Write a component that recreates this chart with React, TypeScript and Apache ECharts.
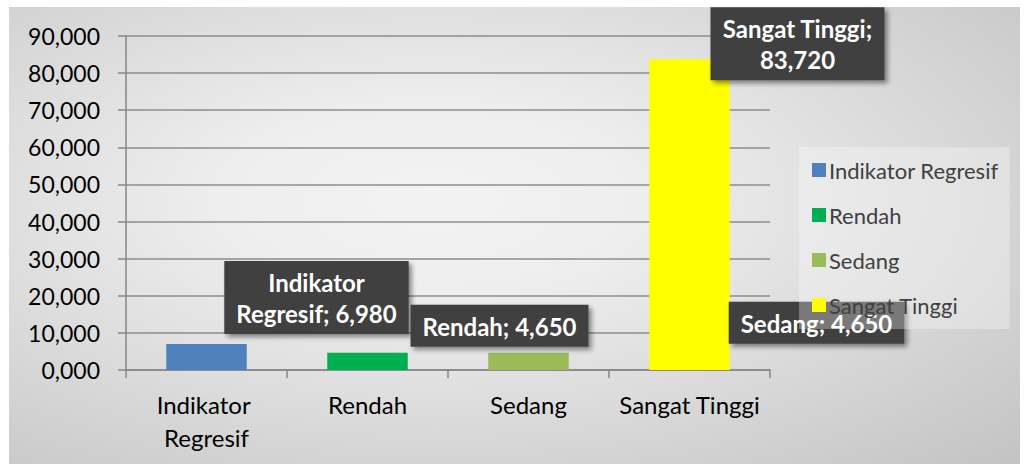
import React, { useEffect, useRef } from "react";
import * as echarts from "echarts";

const categories = ["Indikator Regresif", "Rendah", "Sedang", "Sangat Tinggi"];
const seriesNames = ["Indikator Regresif", "Rendah", "Sedang", "Sangat Tinggi"];
const values = [6.98, 4.65, 4.65, 83.72];
const barColors = ["#4f81bd", "#00b050", "#9bbb59", "#ffff00"];
const yMin = 0;
const yMax = 90;
const yInterval = 10;
// words kept on the first line of each data label (0 = no wrap)
const labelWrapWords = [1, 0, 0, 2];
// label placement relative to the top of each bar (layout only)
const labelOffsets = [
  [110, -10],
  [132, -6],
  [288, -9],
  [108, 21],
];

const fmt = (v: number) => v.toFixed(3).replace(".", ",");

export default function App() {
  const ref = useRef<HTMLDivElement>(null);
  useEffect(() => {
    if (!ref.current) return;
    const chart = echarts.init(ref.current, null, { renderer: "svg" });
    const font = "Lato";
    const series = seriesNames.map((name, i) => ({
      name,
      type: "bar",
      stack: "all",
      barWidth: "50%",
      z: 2,
      itemStyle: { color: barColors[i] },
      data: categories.map((_, j) =>
        j === i
          ? {
              value: values[i],
              label: {
                show: true,
                position: "top",
                distance: 0,
                offset: labelOffsets[i],
                formatter: () => {
                  const text = `${name}; ${fmt(values[i])}`;
                  const n = labelWrapWords[i];
                  if (!n) return text;
                  const words = text.split(" ");
                  return words.slice(0, n).join(" ") + "\n" + words.slice(n).join(" ");
                },
                color: "#ffffff",
                fontFamily: font,
                fontWeight: "bold",
                fontSize: 24,
                lineHeight: 31,
                align: "center",
                backgroundColor: "#404040",
                padding: [6, 12, 5, 12],
                shadowColor: "rgba(0,0,0,0.45)",
                shadowBlur: 5,
                shadowOffsetX: 3,
                shadowOffsetY: 3,
              },
            }
          : "-"
      ),
    }));
    chart.setOption({
      animation: false,
      backgroundColor: "transparent",
      grid: { left: 126, right: 257, top: 36, bottom: 94, containLabel: false },
      legend: {
        orient: "vertical",
        left: 799,
        top: 147,
        z: 20,
        padding: [12, 11, 13, 13],
        backgroundColor: "rgba(255,255,255,0.3)",
        itemWidth: 14,
        itemHeight: 14,
        itemGap: 23,
        icon: "rect",
        textStyle: {
          fontFamily: font,
          fontSize: 22,
          color: "#404040",
          lineHeight: 22,
          padding: [0, 0, 0, -2],
        },
        data: seriesNames,
      },
      xAxis: {
        type: "category",
        data: categories,
        axisLine: { lineStyle: { color: "#868686", width: 1.5 } },
        axisTick: { show: true, length: 8, lineStyle: { color: "#868686", width: 1.5 } },
        axisLabel: {
          color: "#000000",
          fontFamily: font,
          fontSize: 24,
          lineHeight: 33,
          margin: 18,
          width: 160,
          overflow: "break",
          interval: 0,
        },
      },
      yAxis: {
        type: "value",
        min: yMin,
        max: yMax,
        interval: yInterval,
        axisLine: { show: true, lineStyle: { color: "#868686", width: 1.5 } },
        axisTick: { show: true, length: 8, lineStyle: { color: "#868686", width: 1.5 } },
        splitLine: { lineStyle: { color: "#8c8c8c", width: 1.5 } },
        axisLabel: {
          color: "#000000",
          fontFamily: font,
          fontSize: 23,
          margin: 26,
          formatter: (v: number) => fmt(v),
        },
      },
      series,
    });
    return () => chart.dispose();
  }, []);
  return (
    <div style={{ position: "fixed", left: 0, top: 0, width: 1027, height: 464, background: "#ffffff" }}>
      <div
        style={{
          position: "absolute",
          left: 9,
          top: 7,
          width: 1011,
          height: 457,
          background:
            "radial-gradient(ellipse farthest-corner at 42% 42%, #f3f3f3 0%, #eeeeee 25%, #c3c3c3 100%)",
        }}
      />
      <div ref={ref} style={{ position: "absolute", left: 0, top: 0, width: 1027, height: 464 }} />
    </div>
  );
}
